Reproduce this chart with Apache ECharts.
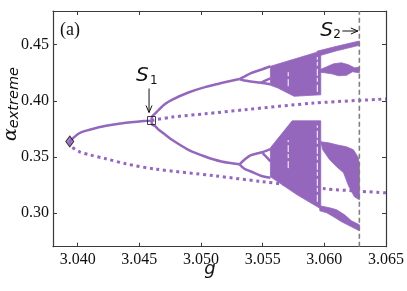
<!DOCTYPE html>
<html><head><meta charset="utf-8">
<script src="https://cdn.jsdelivr.net/npm/echarts@6/dist/echarts.min.js"></script>
<style>html,body{margin:0;padding:0;background:#fff}#c{width:407px;height:291px}</style>
</head><body><div id="c"></div>
<script>
// ---- data (g, alpha_extreme) ----
const xTicks = [3.040, 3.045, 3.050, 3.055, 3.060, 3.065];
const yTicks = [0.30, 0.35, 0.40, 0.45];

const stableBranch = [[3.03936,0.36374],[3.03963,0.36677],[3.04016,0.37130],[3.04096,0.37416],[3.04230,0.37773],[3.04391,0.38040],[3.04599,0.38245]];
const unstableLower = [[3.03936,0.36374],[3.03950,0.35928],[3.04016,0.35456],[3.04096,0.35189],[3.04230,0.34832],[3.04391,0.34387],[3.04631,0.33914],[3.05112,0.33317],[3.05485,0.32810],[3.06006,0.32159],[3.06500,0.31800]];
const unstableUpper = [[3.04599,0.38245],[3.04764,0.38548],[3.05032,0.38842],[3.05352,0.39198],[3.05913,0.39795],[3.06500,0.40160]];

const p1Upper = [[3.04599,0.38245],[3.04604,0.38600],[3.04631,0.38904],[3.04657,0.39198],[3.04711,0.39733],[3.04764,0.40089],[3.04898,0.40740],[3.05032,0.41221],[3.05165,0.41577],[3.05312,0.41934]];
const p1Lower = [[3.04599,0.38245],[3.04604,0.37890],[3.04631,0.37710],[3.04657,0.37416],[3.04711,0.36971],[3.04764,0.36525],[3.04898,0.35634],[3.05032,0.35037],[3.05165,0.34592],[3.05312,0.34342]];

const p2UpA = [[3.05312,0.41934],[3.05352,0.42160],[3.05405,0.42468],[3.05485,0.42762],[3.05563,0.43074]];
const p2UpB = [[3.05312,0.41934],[3.05352,0.41800],[3.05405,0.41720],[3.05485,0.41604],[3.05563,0.41470]];
const p2LoA = [[3.05312,0.34342],[3.05352,0.34750],[3.05405,0.35150],[3.05485,0.35390],[3.05563,0.35700]];
const p2LoB = [[3.05312,0.34342],[3.05352,0.33950],[3.05405,0.33700],[3.05485,0.33317],[3.05563,0.33139]];
const p4UpB = [[3.05485,0.41604],[3.05530,0.41850],[3.05563,0.42000]];
const p4LoA = [[3.05499,0.35340],[3.05530,0.35000],[3.05563,0.34600]];

// chaotic bands (outline points)
const chaosUpperBlock = [[3.05563,0.43074],[3.05939,0.44321],[3.05971,0.44366],[3.05971,0.40535],[3.05755,0.40401],[3.05619,0.41158],[3.05563,0.41381]];
const chaosLowerBlock = [[3.05563,0.35812],[3.05739,0.38218],[3.05971,0.38218],[3.05971,0.30378],[3.05779,0.31625],[3.05563,0.33228]];
const chaosTopBand = [[3.05939,0.44410],[3.06100,0.44856],[3.06284,0.45328],[3.06284,0.44945],[3.06100,0.44455],[3.05971,0.44054]];
const chaosUpperWave = [[3.05963,0.42762],[3.06019,0.43029],[3.06075,0.43297],[3.06139,0.43386],[3.06196,0.43208],[3.06244,0.42940],[3.06284,0.42985],[3.06284,0.42495],[3.06228,0.42584],[3.06180,0.42272],[3.06116,0.42228],[3.06059,0.42406],[3.06003,0.42495],[3.05963,0.42540]];
const chaosLowerCloud = [[3.05971,0.36347],[3.06035,0.36258],[3.06100,0.36080],[3.06180,0.35901],[3.06236,0.35634],[3.06276,0.34921],[3.06284,0.34298],[3.06284,0.31179],[3.06244,0.31446],[3.06196,0.32427],[3.06156,0.33585],[3.06100,0.34119],[3.06043,0.34743],[3.05987,0.35634]];
const chaosBottomBand = [[3.05963,0.30645],[3.06043,0.30467],[3.06100,0.30288],[3.06164,0.29843],[3.06220,0.29308],[3.06284,0.28952],[3.06284,0.28417],[3.06220,0.28774],[3.06140,0.29219],[3.06075,0.29664],[3.06019,0.30021],[3.05963,0.30200]];
const chaosRegions = [chaosUpperBlock, chaosLowerBlock, chaosTopBand, chaosUpperWave, chaosLowerCloud, chaosBottomBand];

// periodic windows (white gaps): [g, alpha low, alpha high]
const windows = [[3.05707,0.4130,0.4270],[3.05943,0.4080,0.4390],[3.05707,0.3400,0.3650],[3.05943,0.3100,0.3780]];

const s2G = 3.06284;
const foldPoint = [3.03936, 0.36374];
const s1Point = [3.04599, 0.38245];

// ---- chart ----
const PURPLE = '#9467bd';
const AX = '#3a3a3a';
const chart = echarts.init(document.getElementById('c'), null, {renderer: 'canvas'});

function curve(data, dotted) {
  return {
    type: 'line', data, symbol: 'none', smooth: 0.3, silent: true, animation: false, z: 3,
    lineStyle: dotted ? {color: PURPLE, width: 3, type: [3, 3.7], cap: 'butt'} : {color: PURPLE, width: 2.5}
  };
}

const series = [
  curve(unstableLower, true),
  curve(unstableUpper, true),
  curve(stableBranch, false),
  curve(p1Upper, false),
  curve(p1Lower, false),
  curve(p2UpA, false), curve(p2UpB, false), curve(p2LoA, false), curve(p2LoB, false),
  curve(p4UpB, false), curve(p4LoA, false),
  {
    type: 'custom', silent: true, animation: false, z: 4,
    data: chaosRegions.map(r => r[0]),
    renderItem: (params, api) => ({
      type: 'polygon',
      shape: {points: chaosRegions[params.dataIndex].map(p => api.coord(p))},
      style: {fill: PURPLE, stroke: PURPLE, lineWidth: 0.8}
    })
  },
  {
    type: 'custom', silent: true, animation: false, z: 5,
    data: windows.map(w => [w[0], w[1]]),
    renderItem: (params, api) => {
      const w = windows[params.dataIndex];
      const a = api.coord([w[0], w[1]]), b = api.coord([w[0], w[2]]);
      return {type: 'line', shape: {x1: a[0], y1: a[1], x2: b[0], y2: b[1]}, style: {stroke: '#fff', lineWidth: 1, lineDash: [7, 3, 4, 2]}};
    }
  },
  {
    type: 'line', data: [[s2G, 0.27], [s2G, 0.48]], symbol: 'none', silent: true, animation: false, z: 6,
    lineStyle: {color: '#808080', width: 1.6, type: [5, 3]}
  },
  {
    type: 'scatter', data: [foldPoint], symbol: 'diamond', symbolSize: [8, 11], silent: true, animation: false, z: 7,
    itemStyle: {color: PURPLE, borderColor: '#111', borderWidth: 1}
  },
  {
    type: 'scatter', data: [s1Point], symbol: 'rect', symbolSize: 8, silent: true, animation: false, z: 7,
    itemStyle: {color: 'rgba(0,0,0,0)', borderColor: '#111', borderWidth: 1}
  }
];

const tickStyle = {inside: true, length: 4, lineStyle: {color: AX, width: 1}};
const lblFont = {fontFamily: 'Liberation Serif', fontSize: 16, color: '#111'};

chart.setOption({
  animation: false,
  grid: {left: 53, right: 17, top: 11, bottom: 44.3, containLabel: false},
  xAxis: [
    {type: 'value', min: 3.038, max: 3.065, position: 'bottom',
     axisLine: {onZero: false, lineStyle: {color: AX, width: 1.2}},
     axisTick: Object.assign({customValues: xTicks}, tickStyle),
     axisLabel: Object.assign({customValues: xTicks, formatter: v => v.toFixed(3), margin: 5, showMaxLabel: true, showMinLabel: true, hideOverlap: false}, lblFont),
     splitLine: {show: false}},
    {type: 'value', min: 3.038, max: 3.065, position: 'top',
     axisLine: {onZero: false, lineStyle: {color: AX, width: 1.2}},
     axisTick: Object.assign({customValues: xTicks}, tickStyle),
     axisLabel: {show: false}, splitLine: {show: false}}
  ],
  yAxis: [
    {type: 'value', min: 0.27, max: 0.48, position: 'left',
     axisLine: {show: true, onZero: false, lineStyle: {color: AX, width: 1.2}},
     axisTick: Object.assign({show: true, customValues: yTicks}, tickStyle),
     axisLabel: Object.assign({customValues: yTicks, formatter: v => v.toFixed(2), margin: 4}, lblFont),
     splitLine: {show: false}},
    {type: 'value', min: 0.27, max: 0.48, position: 'right',
     axisLine: {show: true, onZero: false, lineStyle: {color: AX, width: 1.2}},
     axisTick: Object.assign({show: true, customValues: yTicks}, tickStyle),
     axisLabel: {show: false}, splitLine: {show: false}}
  ],
  series
});

// ---- annotations anchored to data points ----
const ps1 = chart.convertToPixel({gridIndex: 0}, s1Point);
const ps2 = chart.convertToPixel({gridIndex: 0}, [s2G, 0.455]);
const sFont = {fontFamily: 'DejaVu Sans', fontStyle: 'italic', fontSize: 20, fill: '#111'};
const subFont = {fontFamily: 'DejaVu Sans', fontSize: 12, fill: '#111'};
const ax = ps1[0] - 2.5, ay1 = ps1[1] - 32, ay2 = ps1[1] - 8;
const bx1 = ps2[0] - 17, bx2 = ps2[0] - 1.5, by = 31;

chart.setOption({
  graphic: [
    {type: 'text', x: 60, y: 21, style: {text: '(a)', fontFamily: 'Liberation Serif', fontSize: 18, fill: '#111'}},
    {type: 'text', x: ax - 13, y: 66, style: Object.assign({text: 'S'}, sFont)},
    {type: 'text', x: ax + 1, y: 75, style: Object.assign({text: '1'}, subFont)},
    {type: 'line', shape: {x1: ax, y1: ay1, x2: ax, y2: ay2}, style: {stroke: '#111', lineWidth: 1}},
    {type: 'polyline', shape: {points: [[ax - 3, ay2 - 7], [ax, ay2], [ax + 3, ay2 - 7]]}, style: {stroke: '#111', lineWidth: 1, fill: null}},
    {type: 'text', x: bx1 - 22, y: 21, style: Object.assign({text: 'S'}, sFont)},
    {type: 'text', x: bx1 - 9, y: 29, style: Object.assign({text: '2'}, subFont)},
    {type: 'line', shape: {x1: bx1, y1: by, x2: bx2, y2: by}, style: {stroke: '#111', lineWidth: 1}},
    {type: 'polyline', shape: {points: [[bx2 - 7, by - 3], [bx2, by], [bx2 - 7, by + 3]]}, style: {stroke: '#111', lineWidth: 1, fill: null}},
    {type: 'text', x: 210, y: 269, style: {text: 'g', fontFamily: 'DejaVu Sans', fontStyle: 'italic', fontSize: 18, fill: '#111', align: 'center', verticalAlign: 'middle'}},
    {type: 'text', x: 11, y: 104, rotation: Math.PI / 2,
     style: {text: '{a|α}{s|extreme}', align: 'center', verticalAlign: 'middle',
       rich: {a: {fontFamily: 'DejaVu Serif', fontStyle: 'italic', fontSize: 19, fill: '#111'},
              s: {fontFamily: 'DejaVu Sans', fontStyle: 'italic', fontSize: 14.5, fill: '#111', padding: [6, 0, 0, 0]}}}}
  ]
});
</script></body></html>
